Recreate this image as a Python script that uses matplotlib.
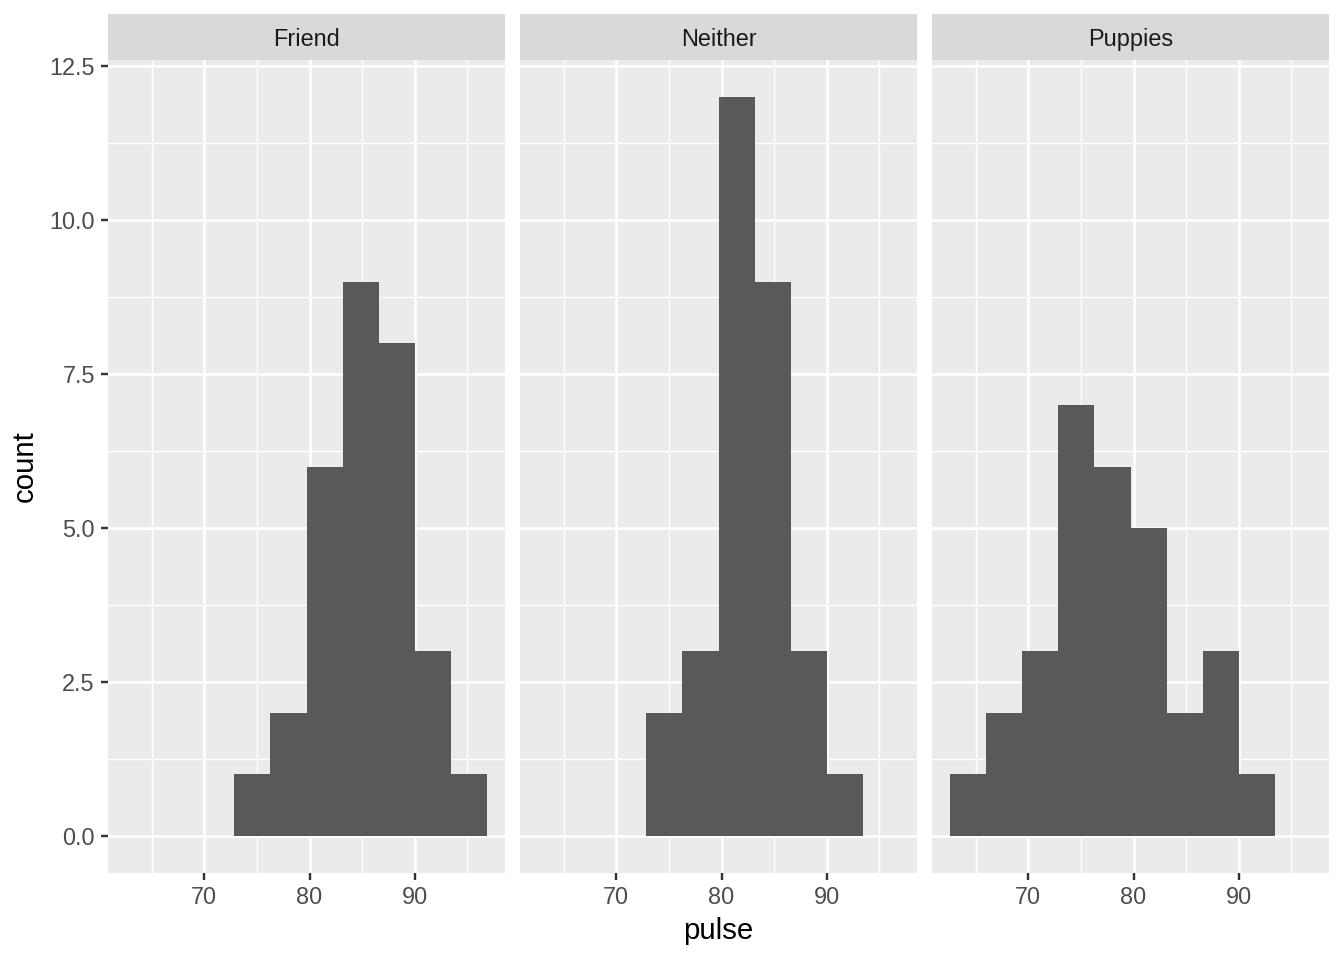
import numpy as np
import matplotlib.pyplot as plt
from matplotlib.ticker import MultipleLocator

plt.rcParams['font.family'] = ['Liberation Sans', 'DejaVu Sans']

# histogram bins: width 24/7, aligned on 90
binwidth = 24 / 7
panels = ["Friend", "Neither", "Puppies"]
first_edge = {"Friend": 90 - 5 * binwidth,
              "Neither": 90 - 5 * binwidth,
              "Puppies": 90 - 8 * binwidth}
counts = {"Friend": [1, 2, 6, 9, 8, 3, 1],
          "Neither": [2, 3, 12, 9, 3, 1],
          "Puppies": [1, 2, 3, 7, 6, 5, 2, 3, 1]}

xlim = (60.857, 98.571)
ylim = (-0.6, 12.6)
xticks = [70, 80, 90]
yticks = [0.0, 2.5, 5.0, 7.5, 10.0, 12.5]

W, H = 1344, 960
fig = plt.figure(figsize=(7, 5), dpi=192)

panel_left = [108, 520, 932]
panel_w = 397
panel_top, panel_bot = 60, 873
strip_top = 14

for i, name in enumerate(panels):
    x0 = panel_left[i] / W
    ax = fig.add_axes([x0, 1 - panel_bot / H, panel_w / W, (panel_bot - panel_top) / H])
    ax.set_facecolor('#EBEBEB')
    for s in ax.spines.values():
        s.set_visible(False)

    c = counts[name]
    edges = first_edge[name] + binwidth * np.arange(len(c))
    ax.bar(edges, c, width=binwidth, align='edge', color='#595959', zorder=3, linewidth=0)

    ax.set_xlim(*xlim)
    ax.set_ylim(*ylim)
    ax.set_xticks(xticks)
    ax.set_yticks(yticks)
    ax.xaxis.set_minor_locator(MultipleLocator(5))
    ax.yaxis.set_minor_locator(MultipleLocator(1.25))
    ax.grid(True, which='major', color='white', linewidth=1.0, zorder=1)
    ax.grid(True, which='minor', color='white', linewidth=0.5, zorder=1)
    ax.set_axisbelow(True)
    ax.tick_params(which='minor', length=0)
    ax.tick_params(which='major', length=2.75, width=0.9, color='#333333',
                   labelcolor='#4D4D4D', labelsize=8.8, pad=2.2)
    ax.set_xticklabels([f"{t}" for t in xticks])
    if i == 0:
        ax.set_yticklabels([f"{t:.1f}" for t in yticks])
        ax.set_ylabel("count", fontsize=11, labelpad=4)
    else:
        ax.tick_params(axis='y', left=False, labelleft=False)
    if i == 1:
        ax.set_xlabel("pulse", fontsize=11, labelpad=3)

    sax = fig.add_axes([x0, 1 - panel_top / H, panel_w / W, (panel_top - strip_top) / H])
    sax.set_facecolor('#D9D9D9')
    sax.set_xticks([])
    sax.set_yticks([])
    for s in sax.spines.values():
        s.set_visible(False)
    sax.text(0.5, 0.45, name, ha='center', va='center', fontsize=8.8,
             color='#1A1A1A', transform=sax.transAxes)

fig.savefig("out.png", dpi=192)
